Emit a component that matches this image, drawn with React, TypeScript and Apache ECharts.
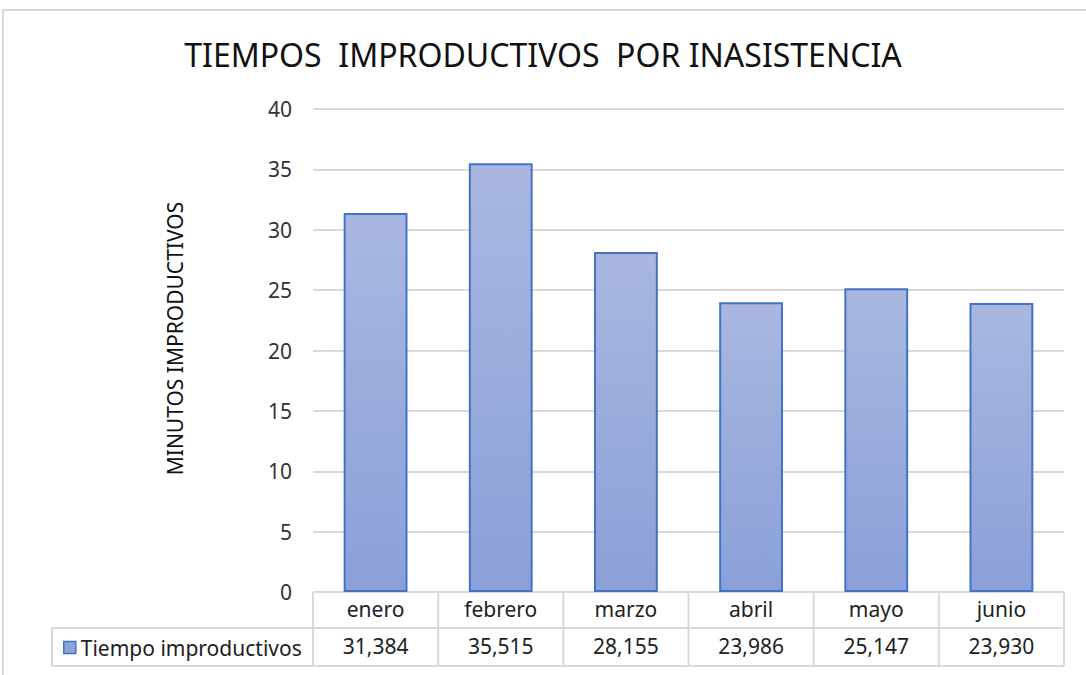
import React, { useEffect, useRef } from "react";
import * as echarts from "echarts";

const title = "TIEMPOS  IMPRODUCTIVOS  POR INASISTENCIA";
const yAxisTitle = "MINUTOS IMPRODUCTIVOS";
const seriesName = "Tiempo improductivos";
const categories = ["enero", "febrero", "marzo", "abril", "mayo", "junio"];
const values = [31.384, 35.515, 28.155, 23.986, 25.147, 23.93];
const yMin = 0;
const yMax = 40;
const yStep = 5;

const W = 1086;
const H = 675;
const G_LEFT = 313;
const G_RIGHT = 1064;
const G_TOP = 109;
const G_BOTTOM = 592;
const ROW1 = 628;
const ROW2 = 666;
const LEG_LEFT = 52;
const LINE = "#d9d9d9";
const FONT = "'Noto Sans', 'Open Sans', sans-serif";
const BODY_FONT = "'Noto Sans', 'Open Sans', sans-serif";

const fmt = (v: number) => v.toFixed(3).replace(".", ",");

export default function App() {
  const ref = useRef<HTMLDivElement>(null);
  useEffect(() => {
    if (!ref.current) return;
    const chart = echarts.init(ref.current, undefined, { renderer: "svg" });
    const cellW = (G_RIGHT - G_LEFT) / categories.length;
    const lines: any[] = [];
    const hl = (x1: number, x2: number, y: number) =>
      lines.push({ type: "line", shape: { x1, y1: y, x2, y2: y }, style: { stroke: LINE, lineWidth: 2 }, silent: true });
    const vl = (x: number, y1: number, y2: number) =>
      lines.push({ type: "line", shape: { x1: x, y1, x2: x, y2 }, style: { stroke: LINE, lineWidth: 2 }, silent: true });
    hl(G_LEFT, G_RIGHT, G_BOTTOM);
    hl(LEG_LEFT, G_RIGHT, ROW1);
    hl(LEG_LEFT, G_RIGHT, ROW2);
    vl(LEG_LEFT, ROW1, ROW2);
    for (let i = 0; i <= categories.length; i++) vl(G_LEFT + cellW * i, G_BOTTOM, ROW2);
    // chart border
    lines.push({ type: "polyline", shape: { points: [[W + 2, 10], [3, 10], [3, H + 2]] }, style: { stroke: "#d9d9d9", lineWidth: 2, fill: "none" }, silent: true });

    chart.setOption({
      animation: false,
      backgroundColor: "#ffffff",
      title: {
        text: title,
        left: "center",
        top: 33,
        textStyle: { fontFamily: FONT, fontSize: 32, fontWeight: "normal", color: "#111111" },
      },
      legend: {
        left: 58,
        top: 632,
        itemWidth: 12,
        itemHeight: 12,
        icon: "rect",
        itemGap: 6,
        textStyle: { fontFamily: BODY_FONT, fontSize: 21, color: "#222222", padding: [0, 0, 0, 0] },
        data: [{ name: seriesName, itemStyle: { color: "#8ea4da", borderColor: "#4472c4", borderWidth: 1.5 } }],
      },
      grid: { left: G_LEFT, right: W - G_RIGHT, top: G_TOP, bottom: H - G_BOTTOM, containLabel: false },
      xAxis: [
        {
          type: "category",
          data: categories,
          axisLine: { show: false },
          axisTick: { show: false },
          axisLabel: { fontFamily: BODY_FONT, fontSize: 21, color: "#222222", margin: 6 },
        },
        {
          type: "category",
          position: "bottom",
          offset: 37,
          data: categories.map((c, i) => fmt(values[i])),
          axisLine: { show: false },
          axisTick: { show: false },
          axisLabel: { fontFamily: BODY_FONT, fontSize: 21, color: "#222222", margin: 6 },
        },
      ],
      yAxis: {
        type: "value",
        min: yMin,
        max: yMax,
        interval: yStep,
        name: yAxisTitle,
        nameLocation: "middle",
        nameGap: 128,
        nameTextStyle: { fontFamily: BODY_FONT, fontSize: 21, color: "#111111", padding: [0, 0, 0, 24] },
        axisLine: { show: false },
        axisTick: { show: false },
        axisLabel: { fontFamily: BODY_FONT, fontSize: 21, color: "#333333", margin: 21 },
        splitLine: { lineStyle: { color: LINE, width: 2 } },
      },
      series: [
        {
          name: seriesName,
          type: "bar",
          data: values,
          barWidth: "51%",
          itemStyle: {
            color: new echarts.graphic.LinearGradient(0, 0, 0, 1, [
              { offset: 0, color: "#a9b7e0" },
              { offset: 1, color: "#8aa0d8" },
            ]),
            borderColor: "#4472c4",
            borderWidth: 2,
          },
        },
      ],
      graphic: lines,
    });
    return () => chart.dispose();
  }, []);
  return (
    <div
      ref={ref}
      style={{ position: "fixed", left: 0, top: 0, width: W, height: H }}
    />
  );
}
